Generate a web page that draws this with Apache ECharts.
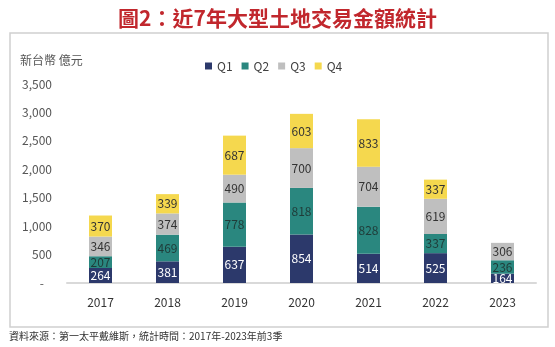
<!DOCTYPE html>
<html><head><meta charset="utf-8">
<script src="https://cdn.jsdelivr.net/npm/echarts@6/dist/echarts.min.js"></script>
<style>html,body{margin:0;padding:0;background:#fff}#c{width:555px;height:347px}</style>
</head><body><div id="c"></div>
<script>
var years = ['2017','2018','2019','2020','2021','2022','2023'];
var q1 = [264, 381, 637, 854, 514, 525, 164];
var q2 = [207, 469, 778, 818, 828, 337, 236];
var q3 = [346, 374, 490, 700, 704, 619, 306];
var q4 = [370, 339, 687, 603, 833, 337, null];
var seriesNames = ['Q1','Q2','Q3','Q4'];
var titleText = '圖2：近7年大型土地交易金額統計';
var sourceText = '資料來源：第一太平戴維斯，統計時間：2017年-2023年前3季';
var unitText = '新台幣 億元';

var colors = ['#2c396b', '#2a877f', '#bfbfbf', '#f5d84e'];
var labelColors = ['#ffffff', '#1f3b38', '#333333', '#333333'];
var font = '"Noto Sans CJK TC", "Noto Sans", sans-serif';
var chart = echarts.init(document.getElementById('c'));
var data = [q1, q2, q3, q4];
chart.setOption({
  animation: false,
  color: colors,
  textStyle: {fontFamily: font},
  title: {
    text: titleText, left: 'center', top: 3,
    textStyle: {color: '#c1272d', fontSize: 21, fontWeight: 'bold', fontFamily: font}
  },
  graphic: [
    {type: 'rect', shape: {x: 10, y: 33, width: 538, height: 294},
     style: {fill: 'none', stroke: '#d0d0d0', lineWidth: 1.5}, z: -1},
    {type: 'text', left: 9, top: 331,
     style: {text: sourceText, fill: '#333', font: '10px ' + font}}
  ],
  legend: {
    top: 55, left: 200, itemWidth: 7, itemHeight: 7, itemGap: 9,
    icon: 'rect',
    textStyle: {color: '#404040', fontSize: 12, fontFamily: font},
    data: seriesNames
  },
  grid: {left: 67, right: 19, top: 84, bottom: 64},
  xAxis: {
    type: 'category', data: years,
    axisLine: {lineStyle: {color: '#d9d9d9', width: 2}},
    axisTick: {show: false},
    axisLabel: {color: '#333', fontSize: 12, margin: 13}
  },
  yAxis: {
    type: 'value', min: 0, max: 3500, interval: 500,
    name: unitText, nameLocation: 'end', nameGap: 18,
    nameTextStyle: {color: '#555', fontSize: 12, align: 'left', padding: [0, 0, 0, -47]},
    splitLine: {show: false}, axisLine: {show: false}, axisTick: {show: false},
    axisLabel: {
      color: '#555', fontSize: 12, margin: 15,
      formatter: function (v) { return v === 0 ? '{d|-}' : v.toLocaleString('en-US'); },
      rich: {d: {padding: [0, 8, 0, 0], fontSize: 12, color: '#555'}}
    }
  },
  series: seriesNames.map(function (n, i) {
    return {
      name: n, type: 'bar', stack: 'a', barWidth: 23,
      data: data[i],
      itemStyle: {color: colors[i]},
      label: {show: true, position: 'inside', color: labelColors[i], fontSize: 12, fontFamily: font}
    };
  })
});
</script></body></html>
